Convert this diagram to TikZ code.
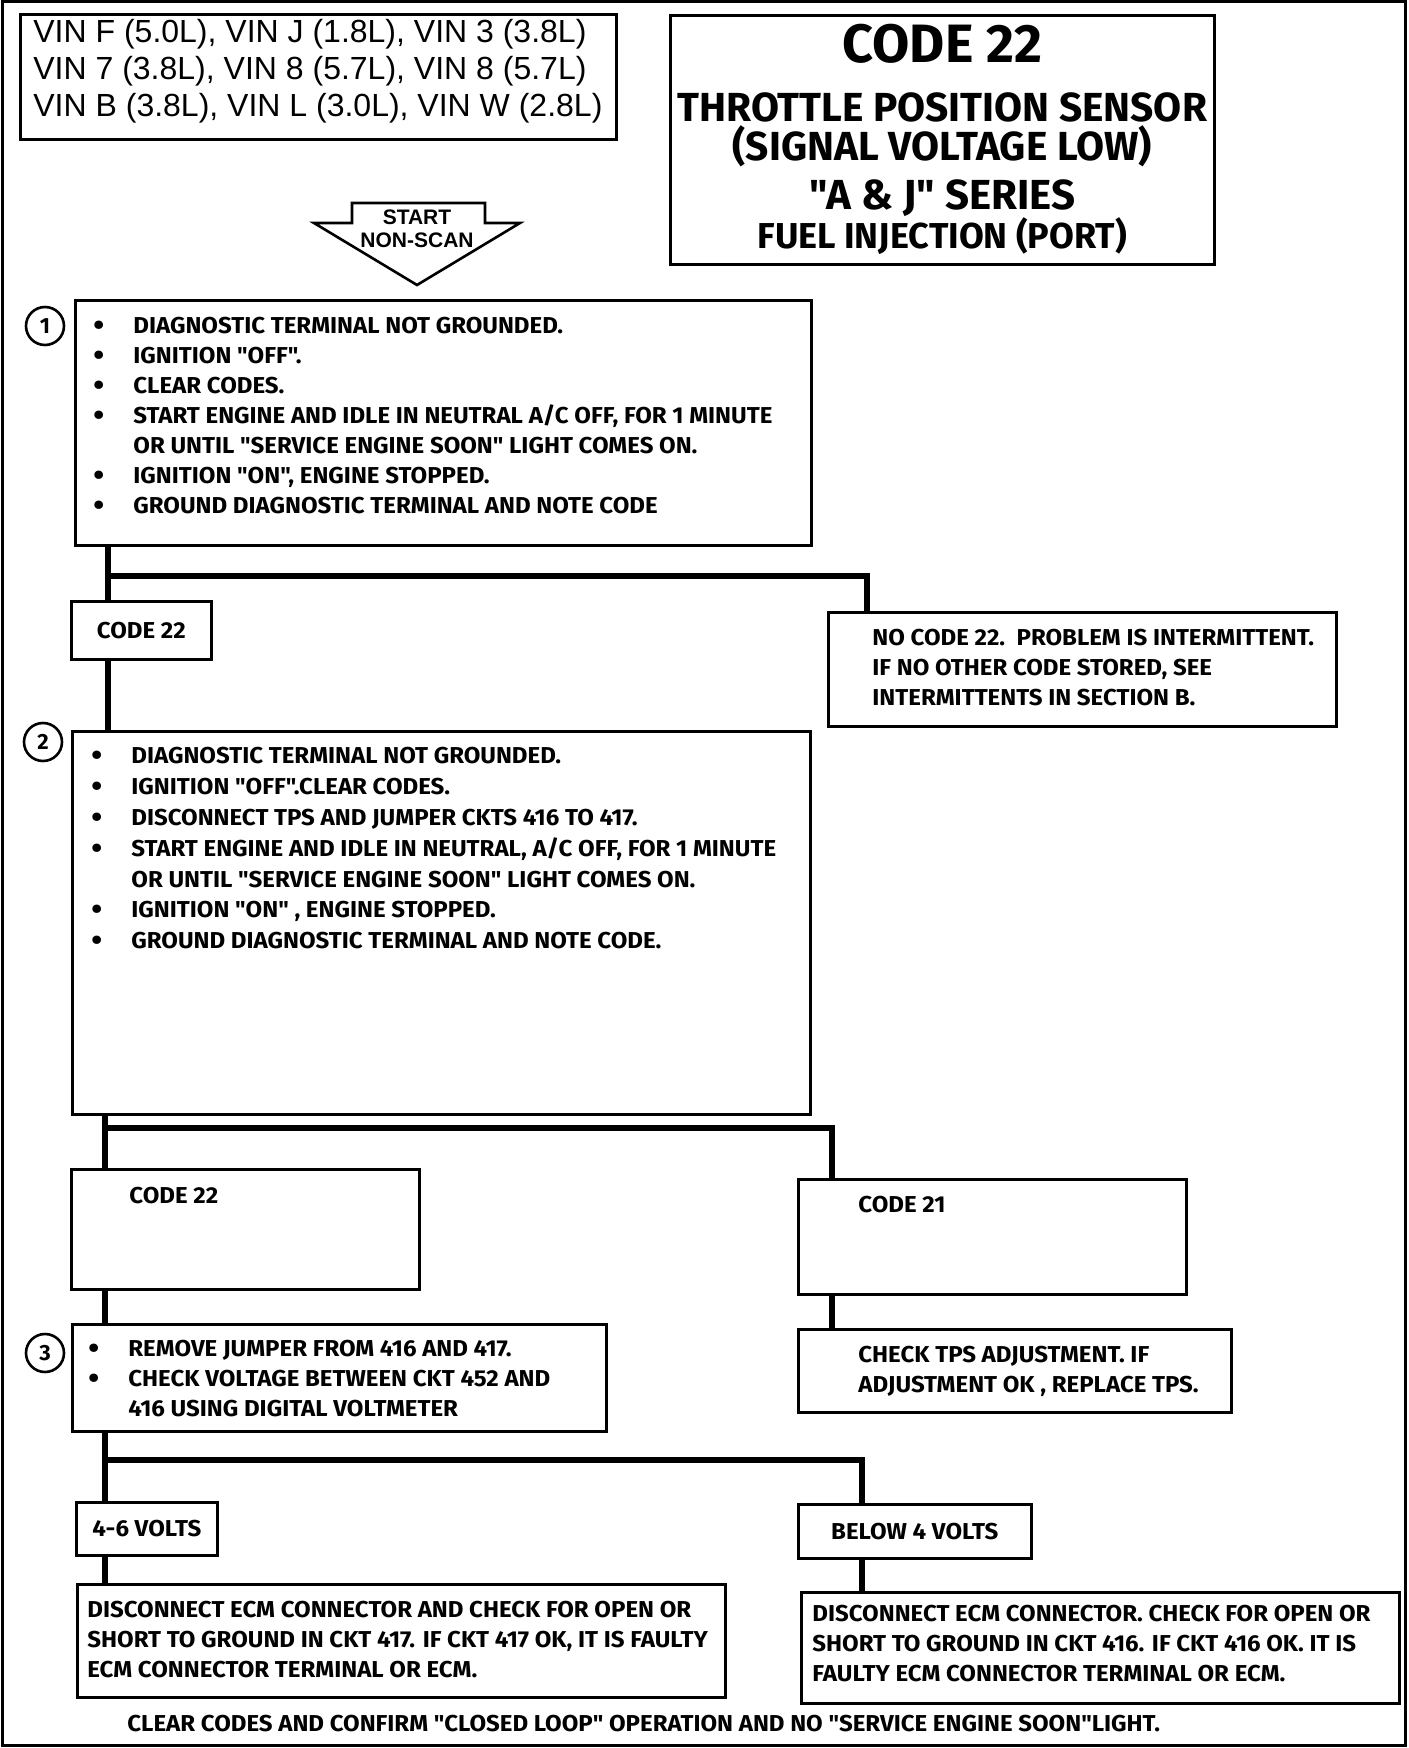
\documentclass[tikz,border=0pt]{standalone}
\usepackage{fontspec}
\setmainfont{Fira Sans}
\newfontfamily\vinfont{Liberation Sans}
\newfontfamily\titlefont{Fira Sans}
\newfontfamily\chartfont[FakeStretch=1.045]{Fira Sans}
\usetikzlibrary{positioning}

\newcommand{\dotitem}{\makebox[20pt][l]{\fontsize{15}{15}\selectfont\raisebox{-0.9pt}{\textbullet}}}
\newcommand{\dotskip}{\hspace*{20pt}}

\begin{document}
\begin{tikzpicture}[x=0.5pt, y=-0.5pt,
    box/.style={draw, line width=1.3pt, inner sep=0pt, anchor=north west},
    txt/.style={font=\chartfont\bfseries\fontsize{11.5}{15}\selectfont, align=left, inner sep=0pt, anchor=west},
    link/.style={line width=2.8pt},
    num/.style={circle, draw, line width=1.3pt, minimum size=19pt, inner sep=0pt,
        font=\titlefont\bfseries\fontsize{11}{11}\selectfont}]
    \useasboundingbox (0,0) rectangle (1408,1748);
    \draw[line width=1.5pt] (2,2) rectangle (1405,1745);

    % header
    \node[box, minimum width=298pt, minimum height=62.5pt] (vin) at (19,13) {};
    \node[align=left, inner sep=0pt, anchor=west, font=\vinfont\fontsize{16}{18.5}\selectfont]
        (vint) at (33,71) {VIN F (5.0L), VIN J (1.8L), VIN 3 (3.8L)\\VIN 7 (3.8L), VIN 8 (5.7L), VIN 8 (5.7L)\\VIN B (3.8L), VIN L (3.0L), VIN W (2.8L)};
    \node[box, minimum width=272pt, minimum height=124.5pt, align=center,
        font=\titlefont\bfseries\fontsize{20.3}{19.5}\selectfont] (title) at (669,14)
        {{\fontsize{27}{27}\selectfont CODE 22}\\[10pt]
         THROTTLE POSITION SENSOR\\
         (SIGNAL VOLTAGE LOW)\\[5pt]
         {\fontsize{21}{21}\selectfont "A \& J" SERIES}\\
         {\fontsize{18}{18}\selectfont FUEL INJECTION (PORT)}};

    % start arrow
    \draw[line width=1.3pt, fill=white] (352,203) -- (485,203) -- (485,223) -- (520,223)
        -- (417,285) -- (314,223) -- (352,223) -- cycle;
    \node[font=\vinfont\bfseries\fontsize{10.5}{11.5}\selectfont, align=center, inner sep=0pt]
        (start) at (417,229) {START\\NON-SCAN};

    % step 1
    \node[num] (n1) at (45,326) {1};
    \node[box, minimum width=368pt, minimum height=122.5pt] (b1) at (74,299) {};
    \node[txt] (b1t) at (93,416) {\dotitem DIAGNOSTIC TERMINAL NOT GROUNDED.\\
        \dotitem IGNITION "OFF".\\
        \dotitem CLEAR CODES.\\
        \dotitem START ENGINE AND IDLE IN NEUTRAL A/C OFF, FOR 1 MINUTE\\
        \dotskip OR UNTIL "SERVICE ENGINE SOON" LIGHT COMES ON.\\
        \dotitem IGNITION "ON", ENGINE STOPPED.\\
        \dotitem GROUND DIAGNOSTIC TERMINAL AND NOTE CODE};

    \node[box, minimum width=70pt, minimum height=29pt, font=\chartfont\bfseries\fontsize{11.5}{15}\selectfont] (c22a) at (70,600) {CODE 22};
    \node[box, minimum width=254pt, minimum height=57pt] (nc) at (827,611) {};
    \node[txt] (nct) at (872,668) {NO CODE 22.\ \ PROBLEM IS INTERMITTENT.\\
        IF NO OTHER CODE STORED, SEE\\
        INTERMITTENTS IN SECTION B.};

    % step 2
    \node[num] (n2) at (43,742) {2};
    \node[box, minimum width=369pt, minimum height=191.5pt] (b2) at (71,730) {};
    \node[txt, font=\chartfont\bfseries\fontsize{11.5}{15.4}\selectfont] (b2t) at (91,849) {\dotitem DIAGNOSTIC TERMINAL NOT GROUNDED.\\
        \dotitem IGNITION "OFF".CLEAR CODES.\\
        \dotitem DISCONNECT TPS AND JUMPER CKTS 416 TO 417.\\
        \dotitem START ENGINE AND IDLE IN NEUTRAL, A/C OFF, FOR 1 MINUTE\\
        \dotskip OR UNTIL "SERVICE ENGINE SOON" LIGHT COMES ON.\\
        \dotitem IGNITION "ON" , ENGINE STOPPED.\\
        \dotitem GROUND DIAGNOSTIC TERMINAL AND NOTE CODE.};

    \node[box, minimum width=174pt, minimum height=60pt] (c22b) at (70,1168) {};
    \node[txt] (c22bt) at (129,1196) {CODE 22};
    \node[box, minimum width=194pt, minimum height=57.5pt] (c21) at (797,1178) {};
    \node[txt] (c21t) at (858,1205) {CODE 21};

    % step 3
    \node[num] (n3) at (45,1353) {3};
    \node[box, minimum width=267pt, minimum height=53.5pt] (b3) at (71,1323) {};
    \node[txt] (b3t) at (88,1379) {\dotitem REMOVE JUMPER FROM 416 AND 417.\\
        \dotitem CHECK VOLTAGE BETWEEN CKT 452 AND\\
        \dotskip 416 USING DIGITAL VOLTMETER};
    \node[box, minimum width=216.5pt, minimum height=41.5pt] (tps) at (797,1328) {};
    \node[txt] (tpst) at (858,1371) {CHECK TPS ADJUSTMENT. IF\\
        ADJUSTMENT OK , REPLACE TPS.};

    \node[box, minimum width=70.5pt, minimum height=26.5pt, font=\chartfont\bfseries\fontsize{11.5}{15}\selectfont] (v46) at (75,1501) {4-6 VOLTS};
    \node[box, minimum width=116.5pt, minimum height=27pt, font=\chartfont\bfseries\fontsize{11.5}{15}\selectfont] (vlow) at (797,1503) {BELOW 4 VOLTS};

    \node[box, minimum width=324pt, minimum height=56.5pt] (dl) at (76,1583) {};
    \node[txt] (dlt) at (87,1640) {DISCONNECT ECM CONNECTOR AND CHECK FOR OPEN OR\\
        SHORT TO GROUND IN CKT 417. IF CKT 417 OK, IT IS FAULTY\\
        ECM CONNECTOR TERMINAL OR ECM.};
    \node[box, minimum width=299pt, minimum height=55.5pt] (dr) at (800,1591) {};
    \node[txt] (drt) at (812,1644) {DISCONNECT ECM CONNECTOR. CHECK FOR OPEN OR\\
        SHORT TO GROUND IN CKT 416. IF CKT 416 OK. IT IS\\
        FAULTY ECM CONNECTOR TERMINAL OR ECM.};

    \node[txt] (foot) at (127,1724) {CLEAR CODES AND CONFIRM "CLOSED LOOP" OPERATION AND NO "SERVICE ENGINE SOON"LIGHT.};

    % connectors
    \coordinate (j1) at (108,576);
    \coordinate (j2) at (105,1128);
    \coordinate (j3) at (105,1460);
    \draw[link] ([xshift=17pt]b1.south west) -- ([xshift=19pt]c22a.north west);
    \draw[link] (j1) -| ([xshift=20pt]nc.north west);
    \draw[link] ([xshift=19pt]c22a.south west) -- ([xshift=18.5pt]b2.north west);
    \draw[link] ([xshift=17pt]b2.south west) -- ([xshift=17.5pt]c22b.north west);
    \draw[link] (j2) -| ([xshift=17.5pt]c21.north west);
    \draw[link] ([xshift=17.5pt]c22b.south west) -- ([xshift=17pt]b3.north west);
    \draw[link] ([xshift=17.5pt]c21.south west) -- ([xshift=17.5pt]tps.north west);
    \draw[link] ([xshift=17pt]b3.south west) -- ([xshift=15pt]v46.north west);
    \draw[link] (j3) -| ([xshift=32.5pt]vlow.north west);
    \draw[link] ([xshift=15pt]v46.south west) -- ([xshift=14.5pt]dl.north west);
    \draw[link] ([xshift=32.5pt]vlow.south west) -- ([xshift=31pt]dr.north west);
\end{tikzpicture}
\end{document}
